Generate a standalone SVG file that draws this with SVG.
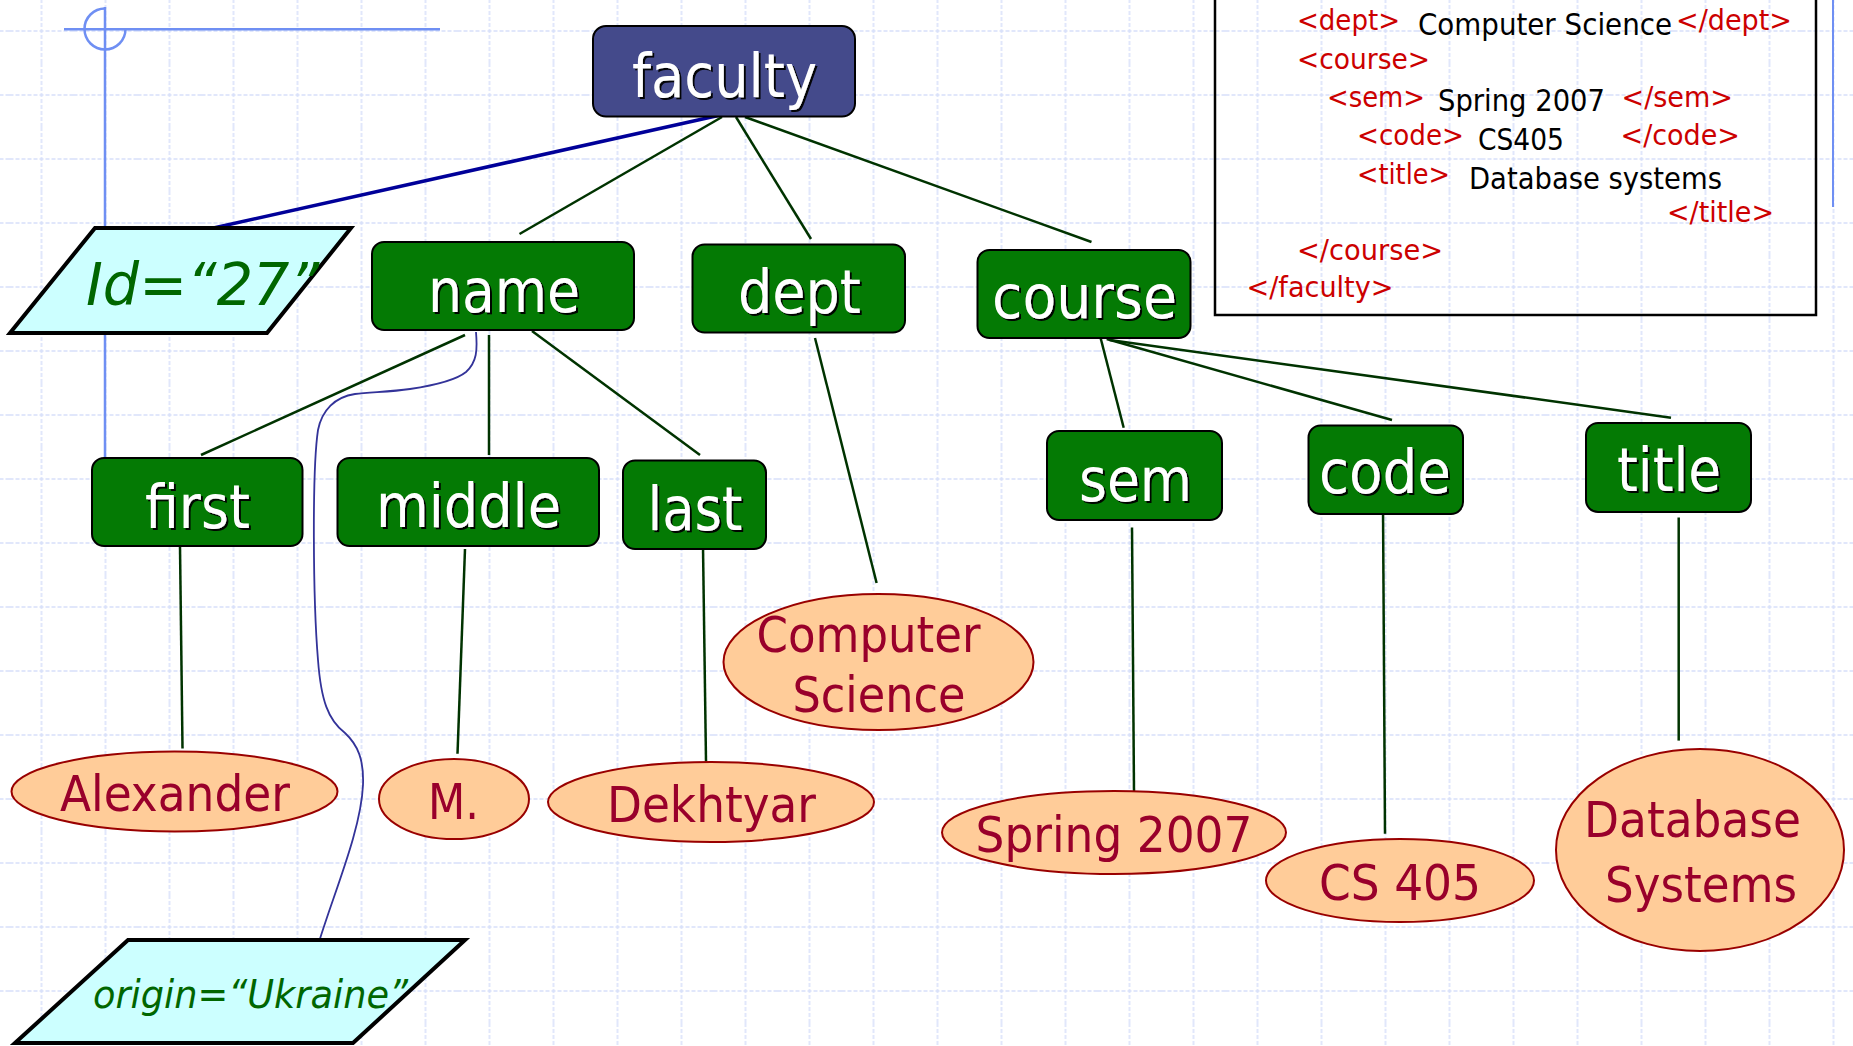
<svg xmlns="http://www.w3.org/2000/svg" width="1853" height="1046" viewBox="0 0 1853 1046">
  <defs>
    <!-- light dashed background grid, 64px cells -->
    <pattern id="grid" x="9.5" y="-1" width="64" height="64" patternUnits="userSpaceOnUse">
      <path d="M32,0V64M0,32H64" fill="none" stroke="#d7e0fa" stroke-width="1.5" stroke-dasharray="4 2"/>
    </pattern>
    <filter id="shadow" x="-10%" y="-10%" width="130%" height="140%">
      <feDropShadow dx="2" dy="2" stdDeviation="0.4" flood-color="#000" flood-opacity="0.95"/>
    </filter>
    <style>
      .box { stroke: #000; stroke-width: 2; }
      .elem { fill: #047a04; }
      .root { fill: #444a8b; }
      .lbl { font-family: "DejaVu Sans Condensed", "DejaVu Sans", sans-serif; font-size: 60px; fill: #fff; text-anchor: middle; filter: url(#shadow); }
      .val { fill: #ffcc99; stroke: #990000; stroke-width: 2; }
      .vtxt { font-family: "DejaVu Sans Condensed", "DejaVu Sans", sans-serif; font-size: 50px; fill: #99002b; text-anchor: middle; }
      .attr { fill: #ccffff; stroke: #000; stroke-width: 4; stroke-linejoin: miter; }
      .atxt { font-family: "DejaVu Sans Condensed", "DejaVu Sans", sans-serif; font-style: italic; fill: #006600; }
      .edge { stroke: #003300; stroke-width: 2.5; fill: none; }
      .tag { font-family: "DejaVu Sans Condensed", "DejaVu Sans", sans-serif; font-size: 29px; fill: #cc0000; }
      .txt { font-family: "DejaVu Sans Condensed", "DejaVu Sans", sans-serif; font-size: 30px; fill: #000; }
      .deco { stroke: #6f8ff3; fill: none; }
    </style>
  </defs>

  <!-- background -->
  <rect x="0" y="0" width="1853" height="1046" fill="#fff"/>
  <rect x="0" y="0" width="1853" height="1046" fill="url(#grid)"/>

  <!-- slide decoration -->
  <g id="decoration">
    <path class="deco" stroke-width="2.5" d="M64,29.3H440"/>
    <path class="deco" stroke-width="2.5" d="M105,7V457"/>
    <path class="deco" stroke-width="2.5" d="M105,8.5A20.5,20.5 0 0 0 105,49.5A20.5,20.5 0 0 0 125.5,29"/>
    <path class="deco" stroke-width="2" d="M1833,0V207"/>
  </g>

  <!-- XML source listing -->
  <g id="xml-listing">
    <rect x="1215" y="-5" width="601" height="320" fill="none" stroke="#000" stroke-width="2.5"/>
    <text class="tag" x="1297" y="29.5" textLength="103" lengthAdjust="spacingAndGlyphs">&lt;dept&gt;</text>
    <text class="txt" x="1418" y="35" textLength="254" lengthAdjust="spacingAndGlyphs">Computer Science</text>
    <text class="tag" x="1676" y="29.5" textLength="116" lengthAdjust="spacingAndGlyphs">&lt;/dept&gt;</text>
    <text class="tag" x="1297" y="68.5" textLength="133" lengthAdjust="spacingAndGlyphs">&lt;course&gt;</text>
    <text class="tag" x="1327" y="106.5" textLength="98" lengthAdjust="spacingAndGlyphs">&lt;sem&gt;</text>
    <text class="txt" x="1438" y="111" textLength="167" lengthAdjust="spacingAndGlyphs">Spring 2007</text>
    <text class="tag" x="1621.5" y="106.5" textLength="111.5" lengthAdjust="spacingAndGlyphs">&lt;/sem&gt;</text>
    <text class="tag" x="1357" y="145" textLength="107" lengthAdjust="spacingAndGlyphs">&lt;code&gt;</text>
    <text class="txt" x="1478" y="150" textLength="86" lengthAdjust="spacingAndGlyphs">CS405</text>
    <text class="tag" x="1620.5" y="145" textLength="119.5" lengthAdjust="spacingAndGlyphs">&lt;/code&gt;</text>
    <text class="tag" x="1357" y="183.5" textLength="93" lengthAdjust="spacingAndGlyphs">&lt;title&gt;</text>
    <text class="txt" x="1469" y="188.5" textLength="253" lengthAdjust="spacingAndGlyphs">Database systems</text>
    <text class="tag" x="1667" y="221.5" textLength="107" lengthAdjust="spacingAndGlyphs">&lt;/title&gt;</text>
    <text class="tag" x="1297" y="259.5" textLength="146" lengthAdjust="spacingAndGlyphs">&lt;/course&gt;</text>
    <text class="tag" x="1246.5" y="296.5" textLength="147" lengthAdjust="spacingAndGlyphs">&lt;/faculty&gt;</text>
  </g>

  <!-- tree edges -->
  <g id="connectors">
    <path d="M720.5,115L213.5,228" stroke="#000099" stroke-width="3.5" fill="none"/>
    <path class="edge" d="M722,117L519.5,234"/>
    <path class="edge" d="M736,117L811,239"/>
    <path class="edge" d="M745,117L1091.5,242"/>
    <path class="edge" d="M465,335L201,455"/>
    <path class="edge" d="M489,335L489,455"/>
    <path class="edge" d="M532,331L700,455"/>
    <path class="edge" d="M815,338L876.6,583"/>
    <path class="edge" d="M1100.6,338L1123.7,427.8"/>
    <path class="edge" d="M1106.7,339L1392,420"/>
    <path class="edge" d="M1109.7,340L1671,417.7"/>
    <path class="edge" d="M180,547L182.5,748.5"/>
    <path class="edge" d="M465,549L457.5,753.7"/>
    <path class="edge" d="M703,547L706,761.6"/>
    <path class="edge" d="M1132,527.5L1134,793"/>
    <path class="edge" d="M1383,506.5L1385,833.7"/>
    <path class="edge" d="M1678.7,517.5L1678.7,740.6"/>
    <path d="M476,332C477.5,350 477,362 466,372C455,381 430,386 410,389C390,392 370,392 355,394C335,397 322,410 318,430C312,470 313,600 318,660C321,700 328,720 345,733C358,745 364,760 363,785C361,830 335,890 319,942" stroke="#333399" stroke-width="1.8" fill="none"/>
  </g>

  <!-- element nodes -->
  <g id="faculty">
    <rect class="box root" x="593" y="26" width="262" height="90.5" rx="13"/>
    <text class="lbl" x="724.5" y="97" textLength="185" lengthAdjust="spacingAndGlyphs">faculty</text>
  </g>
  <g id="name">
    <rect class="box elem" x="372" y="242" width="262" height="88" rx="12"/>
    <text class="lbl" x="504" y="312" textLength="152" lengthAdjust="spacingAndGlyphs">name</text>
  </g>
  <g id="dept">
    <rect class="box elem" x="692.5" y="244.5" width="212.5" height="88" rx="12"/>
    <text class="lbl" x="799.5" y="313" textLength="123" lengthAdjust="spacingAndGlyphs">dept</text>
  </g>
  <g id="course">
    <rect class="box elem" x="977.5" y="250" width="213" height="88" rx="12"/>
    <text class="lbl" x="1084.5" y="318" textLength="185" lengthAdjust="spacingAndGlyphs">course</text>
  </g>
  <g id="first">
    <rect class="box elem" x="92" y="458" width="210.5" height="88" rx="12"/>
    <text class="lbl" x="197.5" y="527.5" textLength="105" lengthAdjust="spacingAndGlyphs">first</text>
  </g>
  <g id="middle">
    <rect class="box elem" x="337.5" y="458" width="261.5" height="88" rx="12"/>
    <text class="lbl" x="468.5" y="527" textLength="185" lengthAdjust="spacingAndGlyphs">middle</text>
  </g>
  <g id="last">
    <rect class="box elem" x="623" y="460.5" width="143" height="88.5" rx="12"/>
    <text class="lbl" x="695" y="530" textLength="95" lengthAdjust="spacingAndGlyphs">last</text>
  </g>
  <g id="sem">
    <rect class="box elem" x="1047" y="431" width="175" height="89" rx="12"/>
    <text class="lbl" x="1135.5" y="501" textLength="113" lengthAdjust="spacingAndGlyphs">sem</text>
  </g>
  <g id="code">
    <rect class="box elem" x="1308.5" y="425.5" width="154.5" height="88.5" rx="12"/>
    <text class="lbl" x="1385" y="493" textLength="132" lengthAdjust="spacingAndGlyphs">code</text>
  </g>
  <g id="title">
    <rect class="box elem" x="1586" y="423" width="165" height="89" rx="12"/>
    <text class="lbl" x="1669" y="491" textLength="104" lengthAdjust="spacingAndGlyphs">title</text>
  </g>

  <!-- attribute nodes -->
  <g id="attr-id">
    <polygon class="attr" points="95,228 351,228 267,333 10,333"/>
    <text class="atxt" x="86" y="305" font-size="58" textLength="233" lengthAdjust="spacingAndGlyphs">Id=“27”</text>
  </g>
  <g id="attr-origin">
    <polygon class="attr" points="128,940 465,940 353,1043 15,1043"/>
    <text class="atxt" x="93" y="1008" font-size="39" textLength="315" lengthAdjust="spacingAndGlyphs">origin=“Ukraine”</text>
  </g>

  <!-- text value nodes -->
  <g id="val-alexander">
    <ellipse class="val" cx="174.5" cy="791.5" rx="163" ry="40"/>
    <text class="vtxt" x="175" y="810.5" textLength="230" lengthAdjust="spacingAndGlyphs">Alexander</text>
  </g>
  <g id="val-m">
    <ellipse class="val" cx="454" cy="799" rx="75" ry="40"/>
    <text class="vtxt" x="453.5" y="819" textLength="51" lengthAdjust="spacingAndGlyphs">M.</text>
  </g>
  <g id="val-dekhtyar">
    <ellipse class="val" cx="711" cy="802" rx="163" ry="40"/>
    <text class="vtxt" x="711.5" y="821.5" textLength="209" lengthAdjust="spacingAndGlyphs">Dekhtyar</text>
  </g>
  <g id="val-computer-science">
    <ellipse class="val" cx="878.5" cy="662" rx="155" ry="68"/>
    <text class="vtxt" x="868.5" y="652" textLength="224" lengthAdjust="spacingAndGlyphs">Computer</text>
    <text class="vtxt" x="879" y="712" textLength="173" lengthAdjust="spacingAndGlyphs">Science</text>
  </g>
  <g id="val-spring">
    <ellipse class="val" cx="1114" cy="832.5" rx="172" ry="41.5"/>
    <text class="vtxt" x="1114" y="852" textLength="277" lengthAdjust="spacingAndGlyphs">Spring 2007</text>
  </g>
  <g id="val-cs405">
    <ellipse class="val" cx="1400" cy="880.5" rx="134" ry="41.5"/>
    <text class="vtxt" x="1400" y="900" textLength="162" lengthAdjust="spacingAndGlyphs">CS 405</text>
  </g>
  <g id="val-database">
    <ellipse class="val" cx="1700" cy="850" rx="144" ry="101"/>
    <text class="vtxt" x="1692.5" y="837" textLength="217" lengthAdjust="spacingAndGlyphs">Database</text>
    <text class="vtxt" x="1701" y="902" textLength="192" lengthAdjust="spacingAndGlyphs">Systems</text>
  </g>
</svg>
